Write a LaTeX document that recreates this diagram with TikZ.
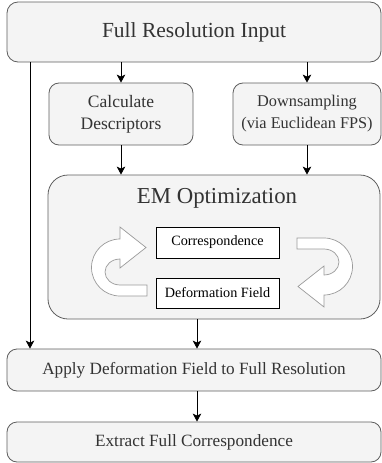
\documentclass[tikz,border=0pt]{standalone}
\usepackage{fontspec}
\setmainfont{Liberation Serif}
\usetikzlibrary{arrows.meta}
\definecolor{boxgray}{HTML}{5E5E5E}
\definecolor{panelfill}{HTML}{F4F4F4}
\definecolor{textgray}{HTML}{333333}
\definecolor{loopgray}{HTML}{9A9A9A}
\begin{document}
\begin{tikzpicture}[x=1pt,y=-1pt,
  panel/.style={draw=boxgray, fill=panelfill, line width=0.8pt,
    rounded corners=#1, inner sep=0pt, align=center, text=textgray},
  panel/.default=10pt,
  stagebox/.style={draw=black, fill=white, line width=0.8pt,
    inner sep=0pt, text=black},
  flow/.style={draw=black, line width=0.8pt,
    -{Stealth[width=8.5pt,length=8pt,inset=2pt]}},
  loop/.style={draw=loopgray, fill=white, line width=0.7pt, line join=miter}
]
\useasboundingbox (0,0) rectangle (382,463);

% pipeline stages
\node[panel=11pt, minimum width=374pt, minimum height=60pt,
  font=\fontsize{21.5}{26}\selectfont] (input) at (194,32) {Full Resolution Input};
\node[panel, minimum width=144pt, minimum height=62pt,
  font=\fontsize{17.5}{22}\selectfont] (desc) at (121,114) {Calculate\\Descriptors};
\node[panel, minimum width=148pt, minimum height=62pt,
  font=\fontsize{16.3}{22}\selectfont] (down) at (307,114) {Downsampling\\(via Euclidean FPS)};
\node[panel=20pt, minimum width=332pt, minimum height=144pt] (em) at (214,247) {};
\node[text=textgray, font=\fontsize{22.8}{26}\selectfont] (emtitle) at (217,198) {EM Optimization};
\node[stagebox, minimum width=123pt, minimum height=31pt,
  font=\fontsize{14.2}{17}\selectfont] (corr) at (217.5,242.5) {Correspondence};
\node[stagebox, minimum width=123pt, minimum height=30pt,
  font=\fontsize{14.2}{17}\selectfont] (deform) at (217.5,293) {Deformation Field};
\node[panel, minimum width=374pt, minimum height=42pt,
  font=\fontsize{17.2}{21}\selectfont] (apply) at (194,370) {Apply Deformation Field to Full Resolution};
\node[panel, minimum width=374pt, minimum height=40pt,
  font=\fontsize{17.2}{21}\selectfont] (extract) at (194,442) {Extract Full Correspondence};

% columns used by the long connectors
\coordinate (bypass) at (30,0);
\coordinate (mid) at (197,0);

% connectors
\draw[flow] (input.south -| desc.north) -- (desc.north);
\draw[flow] (input.south -| down.north) -- (down.north);
\draw[flow] (desc.south) -- (em.north -| desc.south);
\draw[flow] (down.south) -- (em.north -| down.south);
\draw[flow] (input.south -| bypass) -- (apply.north -| bypass);
\draw[flow] (em.south -| mid) -- (apply.north -| mid);
\draw[flow] (apply.south -| mid) -- (extract.north -| mid);

% U-turn arrows of the EM loop
\foreach \turn in {0,180}{
  \begin{scope}[rotate around={\turn:(222,267)}]
    \path[loop] (147,285) -- (147,296) -- (120,296)
      arc[start angle=90, end angle=270, radius=28.5]
      -- (120,227) -- (146,247.5) -- (120,268) -- (120,259)
      arc[start angle=270, end angle=90, x radius=15, y radius=13]
      -- cycle;
  \end{scope}
}
\end{tikzpicture}
\end{document}
